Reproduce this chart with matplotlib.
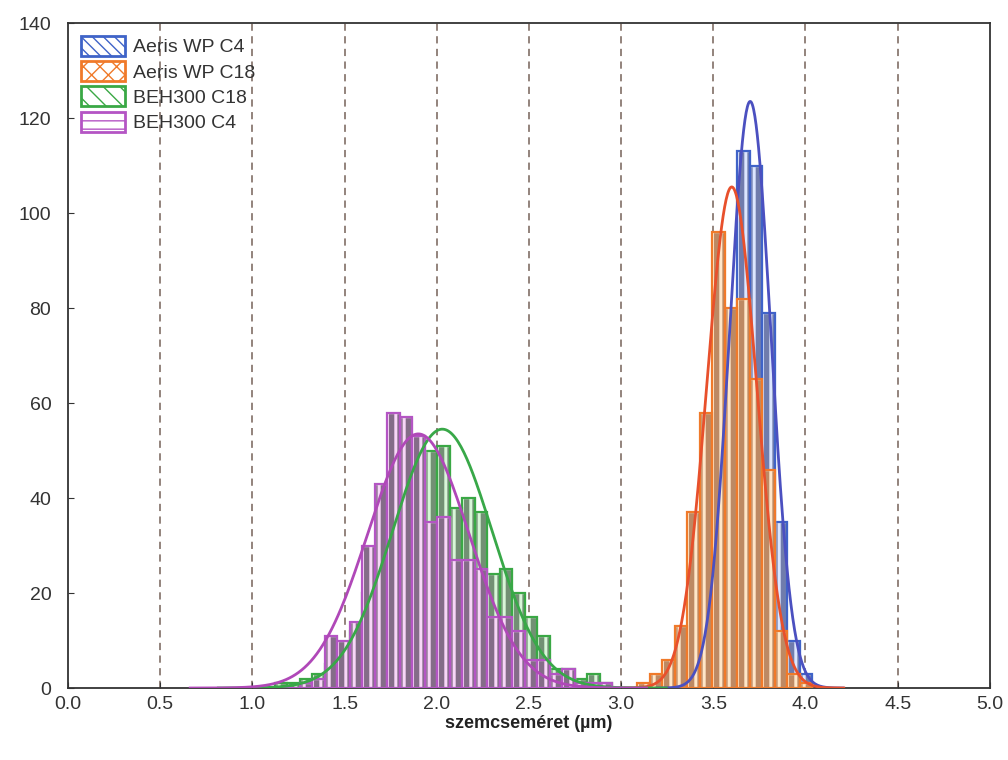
import numpy as np
import matplotlib
matplotlib.use('Agg')
from matplotlib import pyplot as plt
from matplotlib.patches import Patch

plt.rcParams['font.family'] = ['Liberation Sans', 'DejaVu Sans']

# histogram grid (particle size, um)
bin_w = 0.0678
bin0 = 1.122  # left edge of the first bin

# counts per bin, with the index of the first bin
beh_c18 = [1, 1, 2, 3, 5, 8, 12, 20, 28, 38, 45, 48, 50, 51, 38, 40, 37, 24, 25,
           20, 15, 11, 4, 4, 2, 3, 1]
beh_c18_start = 0
beh_c4 = [0, 0, 1, 2, 11, 10, 14, 30, 43, 58, 57, 53, 35, 36, 27, 27, 25, 15, 15,
          12, 6, 6, 3, 4, 1, 1, 1]
beh_c4_start = 0
aeris_c18 = [1, 3, 6, 13, 37, 58, 96, 80, 82, 65, 46, 12, 3, 1]
aeris_c18_start = 29
aeris_c4 = [2, 8, 25, 60, 113, 110, 79, 35, 10, 3]
aeris_c4_start = 33

# fitted normal curves: mean, sd, peak height
fit_aeris_c4 = (3.70, 0.112, 123.5)
fit_aeris_c18 = (3.60, 0.135, 105.5)
fit_beh_c18 = (2.03, 0.27, 54.5)
fit_beh_c4 = (1.90, 0.275, 53.5)

labels = ['Aeris WP C4', 'Aeris WP C18', 'BEH300 C18', 'BEH300 C4']
colors = ['#3f63c8', '#f07a2a', '#3aa845', '#b455c4']
curve_colors = ['#4b50c0', '#e8502c', '#38a848', '#b048b8']
face_colors = ['#707cac', '#bd8963', '#729074', '#846c88']
hatch_colors = ['#dce6ff', '#ffe6c8', '#d8f6d8', '#f8d6f8']
leg_hatch = ['\\\\\\', 'xx', '\\\\', '--']

series = [(aeris_c4, aeris_c4_start, fit_aeris_c4),
          (aeris_c18, aeris_c18_start, fit_aeris_c18),
          (beh_c18, beh_c18_start, fit_beh_c18),
          (beh_c4, beh_c4_start, fit_beh_c4)]

fig = plt.figure(figsize=(10.08, 7.6), dpi=100)
ax = fig.add_axes([0.0675, 0.0947, 0.9145, 0.875])

for x in np.arange(0.5, 5.0, 0.5):
    ax.axvline(x, color='#8a7a72', linestyle=(0, (4, 3)), linewidth=1.3, zorder=0)

with plt.rc_context({'hatch.linewidth': 2.2}):
    for i, (counts, start, fit) in enumerate(series):
        counts = np.array(counts)
        left = bin0 + bin_w * (start + np.arange(len(counts)))
        bars = ax.bar(left, counts, width=bin_w, align='edge', facecolor=face_colors[i],
                      edgecolor=hatch_colors[i], hatch='||', linewidth=1.0, zorder=2 + i)
        if hasattr(bars[0], 'set_hatch_linewidth'):
            for b in bars:
                b.set_hatch_linewidth(2.2)
        ax.bar(left, counts, width=bin_w, align='edge', fill=False,
               edgecolor=colors[i], linewidth=1.6, zorder=2 + i)

for i, (counts, start, fit) in enumerate(series):
    mu, sd, peak = fit
    xs = np.linspace(mu - 4.5 * sd, mu + 4.5 * sd, 300)
    ax.plot(xs, peak * np.exp(-(xs - mu) ** 2 / (2 * sd ** 2)),
            color=curve_colors[i], linewidth=2, zorder=10)

ax.set_xlim(0, 5)
ax.set_ylim(0, 140)
ax.set_xticks(np.arange(0, 5.01, 0.5))
ax.set_yticks(np.arange(0, 141, 20))
ax.xaxis.set_major_formatter(matplotlib.ticker.FormatStrFormatter('%.1f'))
ax.tick_params(labelsize=14, colors='#333333', direction='in', length=4)
ax.tick_params(axis='y', pad=12)
ax.tick_params(axis='x', pad=6)
for s in ax.spines.values():
    s.set_color('#333333')
    s.set_linewidth(1.3)
ax.set_xlabel('szemcseméret (µm)', fontsize=13, fontweight='bold', color='#222222',
              labelpad=1)

handles = [Patch(facecolor='white', edgecolor=colors[i], hatch=leg_hatch[i], linewidth=2)
           for i in range(4)]
ax.legend(handles, labels, loc='upper left', frameon=False, fontsize=14,
          handlelength=2.3, handleheight=1.2, labelspacing=0.25,
          borderaxespad=0.25, handletextpad=0.4, labelcolor='#333333')

plt.savefig('out.png', dpi=100)
